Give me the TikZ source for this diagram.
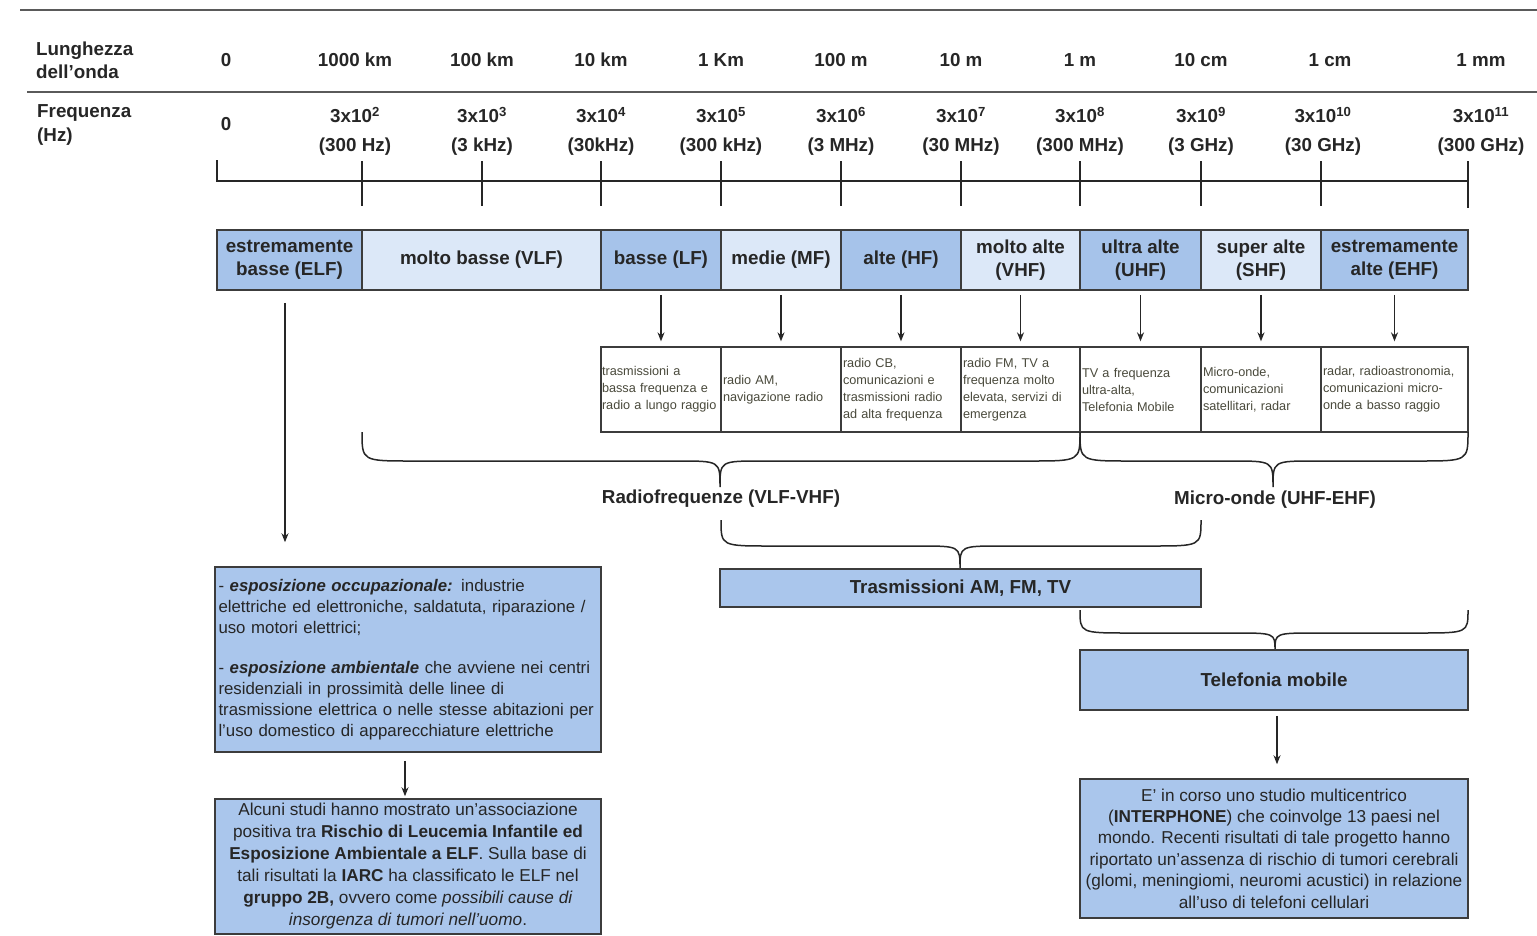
\documentclass[tikz,border=0pt]{standalone}
\usepackage{fontspec}
\setmainfont{Liberation Sans}
\usetikzlibrary{arrows.meta}

\definecolor{ink}{HTML}{262626}
\definecolor{appink}{HTML}{4A4A3C}
\definecolor{edge}{HTML}{3C3C3C}
\definecolor{rule}{HTML}{5A5A5A}
\definecolor{bandD}{HTML}{A6C3EA}
\definecolor{bandL}{HTML}{DCE8F8}
\definecolor{boxB}{HTML}{AAC6EC}

% curly brace spanning x1..x2 (ends at y0), flat part at yf, tip at (xm,yt)
\newcommand{\spanbrace}[6]{%
  \draw[brc] (#1,#3) .. controls (#1,#4) .. (#1+50,#4) -- (#5-42,#4)
    .. controls (#5,#4) .. (#5,#6) .. controls (#5,#4) .. (#5+42,#4)
    -- (#2-50,#4) .. controls (#2,#4) .. (#2,#3);}

\begin{document}
\begin{tikzpicture}[x=1pt,y=-1pt,
  nohyph/.style={execute at begin node={\hyphenpenalty=10000\exhyphenpenalty=10000}},
  hdr/.style={font=\bfseries\fontsize{18.8}{21}\selectfont, text=ink, inner sep=0},
  band/.style={draw=edge, line width=1.5pt, minimum height=60pt, inner sep=0,
    align=center, font=\bfseries\fontsize{18.8}{23}\selectfont, text=ink},
  dark/.style={band, fill=bandD},
  light/.style={band, fill=bandL},
  app/.style={draw=edge, line width=1.3pt, fill=white, minimum height=85pt,
    minimum width=120pt, text width=116pt, inner xsep=2pt, inner ysep=0,
    align=left, font=\fontsize{12.7}{17}\selectfont, text=appink, nohyph},
  info/.style={draw=edge, line width=1.5pt, fill=boxB, inner sep=0, text=ink},
  brc/.style={draw=ink, line width=1.5pt},
  arr/.style={draw=ink, line width=1.4pt, -{Stealth[length=9pt,width=7pt]}},
  tick/.style={draw=ink, line width=2.6pt}
]
\useasboundingbox (0,0) rectangle (1537,935);

% header rules
\draw[rule, line width=2pt] (20,10) -- (1537,10);
\draw[rule, line width=2pt] (27,92) -- (1537,92);

% row titles
\node[hdr, anchor=west, align=left, font=\bfseries\fontsize{18.8}{23}\selectfont] (lenT) at (36,60) {Lunghezza\\dell'onda};
\node[hdr, anchor=west, align=left, font=\bfseries\fontsize{18.8}{24}\selectfont] (freqT) at (37,125) {Frequenza\\(Hz)};

% wavelengths
\node[hdr] (w0)  at (226,60)  {0};
\node[hdr] (w1)  at (355,60)  {1000 km};
\node[hdr] (w2)  at (482,60)  {100 km};
\node[hdr] (w3)  at (601,60)  {10 km};
\node[hdr] (w4)  at (721,60)  {1 Km};
\node[hdr] (w5)  at (841,60)  {100 m};
\node[hdr] (w6)  at (961,60)  {10 m};
\node[hdr] (w7)  at (1080,60) {1 m};
\node[hdr] (w8)  at (1201,60) {10 cm};
\node[hdr] (w9)  at (1330,60) {1 cm};
\node[hdr] (w10) at (1481,60) {1 mm};

% frequencies
\node[hdr] (f0) at (226,124) {0};
\foreach \x/\e/\v [count=\i] in {355/2/300 Hz, 482/3/3 kHz, 601/4/30kHz, 721/5/300 kHz,
    841/6/3 MHz, 961/7/30 MHz, 1080/8/300 MHz, 1201/9/3 GHz, 1323/10/30 GHz, 1481/11/300 GHz}{
  \node[hdr] (fe\i) at (\x,115) {3x10\textsuperscript{\e}};
  \node[hdr] (fv\i) at (\x,147) {(\v)};
}

% frequency axis
\draw[tick] (217,160) -- (217,181) -- (1468,181);
\foreach \x in {362,482,601,721,841,961,1080,1201,1321}
  \draw[tick] (\x,161) -- (\x,206);
\draw[tick] (1468,161) -- (1468,208);

% frequency bands
\node[dark,  minimum width=145pt] (elf) at (289.5,260) {estremamente\\basse (ELF)};
\node[light, minimum width=239pt] (vlf) at (481.5,260) {molto basse (VLF)};
\node[dark,  minimum width=120pt] (lf)  at (661,260)   {basse (LF)};
\node[light, minimum width=120pt] (mf)  at (781,260)   {medie (MF)};
\node[dark,  minimum width=120pt] (hf)  at (901,260)   {alte (HF)};
\node[light, minimum width=119pt] (vhf) at (1020.5,260) {molto alte\\(VHF)};
\node[dark,  minimum width=121pt] (uhf) at (1140.5,260) {ultra alte\\(UHF)};
\node[light, minimum width=120pt] (shf) at (1261,260)  {super alte\\(SHF)};
\node[dark,  minimum width=147pt] (ehf) at (1394.5,260) {estremamente\\alte (EHF)};

% applications
\node[app, text width=118pt, inner xsep=1pt] (aLF)  at (661,389.5)  {trasmissioni a\\bassa frequenza e\\radio a lungo raggio};
\node[app] (aMF)  at (781,389.5)  {radio AM,\\navigazione radio};
\node[app] (aHF)  at (901,389.5)  {radio CB,\\comunicazioni e\\trasmissioni radio\\ad alta frequenza};
\node[app, minimum width=119pt, text width=115pt] (aVHF) at (1020.5,389.5) {radio FM, TV a\\frequenza molto\\elevata, servizi di\\emergenza};
\node[app, minimum width=121pt, text width=117pt] (aUHF) at (1140.5,389.5) {TV a frequenza\\ultra-alta,\\Telefonia Mobile};
\node[app] (aSHF) at (1261,389.5) {Micro-onde,\\comunicazioni\\satellitari, radar};
\node[app, minimum width=147pt, text width=143pt] (aEHF) at (1394.5,389.5) {radar, radioastronomia,\\comunicazioni micro-\\onde a basso raggio};

\foreach \b/\a in {lf/aLF, mf/aMF, hf/aHF, vhf/aVHF, uhf/aUHF, shf/aSHF, ehf/aEHF}
  \draw[arr, shorten <=4pt, shorten >=5pt] (\b.south) -- (\a.north);

% groupings
\spanbrace{362}{1080}{432}{461}{720}{487}
\spanbrace{1080}{1468}{432}{461}{1273}{487}
\node[hdr] (rf) at (721,499) {Radiofrequenze (VLF-VHF)};
\node[hdr] (mw) at (1275,500) {Micro-onde (UHF-EHF)};

\spanbrace{721}{1201}{520}{546}{960}{568}
\node[info, minimum width=481pt, minimum height=38pt, font=\bfseries\fontsize{18.8}{21}\selectfont] (tv) at (960.5,588) {Trasmissioni AM, FM, TV};

\spanbrace{1080}{1468}{610}{633}{1275}{650}
\node[info, minimum width=388pt, minimum height=60pt, font=\bfseries\fontsize{18.8}{21}\selectfont] (tel) at (1274,680) {Telefonia mobile};

\node[info, minimum width=388pt, minimum height=139pt, align=center,
  font=\fontsize{17.2}{21.4}\selectfont] (inter) at (1274,848.5)
  {E' in corso uno studio multicentrico\\
   (\textbf{INTERPHONE}) che coinvolge 13 paesi nel\\
   mondo. Recenti risultati di tale progetto hanno\\
   riportato un'assenza di rischio di tumori cerebrali\\
   (glomi, meningiomi, neuromi acustici) in relazione\\
   all'uso di telefoni cellulari};
\draw[arr, shorten <=5pt, shorten >=14pt] ([xshift=3pt]tel.south) -- ([xshift=3pt]inter.north);

% ELF exposure
\node[info, minimum width=386pt, minimum height=185pt, text width=379pt, inner xsep=3.5pt,
  align=left, font=\fontsize{16.8}{21}\selectfont, nohyph] (expo) at (408,659.5)
  {- \textbf{\textit{esposizione occupazionale:}} industrie\\
   elettriche ed elettroniche, saldatuta, riparazione /\\
   uso motori elettrici;\\[19pt]
   - \textbf{\textit{esposizione ambientale}} che avviene nei centri\\
   residenziali in prossimità delle linee di\\
   trasmissione elettrica o nelle stesse abitazioni per\\
   l'uso domestico di apparecchiature elettriche};
\coordinate (elfDrop) at ([xshift=-4.5pt]elf.south);
\draw[arr, shorten <=12pt, shorten >=24pt] (elfDrop) -- (elfDrop |- expo.north);

\node[info, minimum width=386pt, minimum height=135pt, align=center,
  font=\fontsize{17.2}{22}\selectfont] (iarc) at (408,866.5)
  {Alcuni studi hanno mostrato un'associazione\\
   positiva tra \textbf{Rischio di Leucemia Infantile ed}\\
   \textbf{Esposizione Ambientale a ELF}. Sulla base di\\
   tali risultati la \textbf{IARC} ha classificato le ELF nel\\
   \textbf{gruppo 2B,} ovvero come \textit{possibili cause di}\\
   \textit{insorgenza di tumori nell'uomo}.};
\draw[arr, shorten <=8pt, shorten >=2pt] ([xshift=-3pt]expo.south) -- ([xshift=-3pt]iarc.north);

\end{tikzpicture}
\end{document}
